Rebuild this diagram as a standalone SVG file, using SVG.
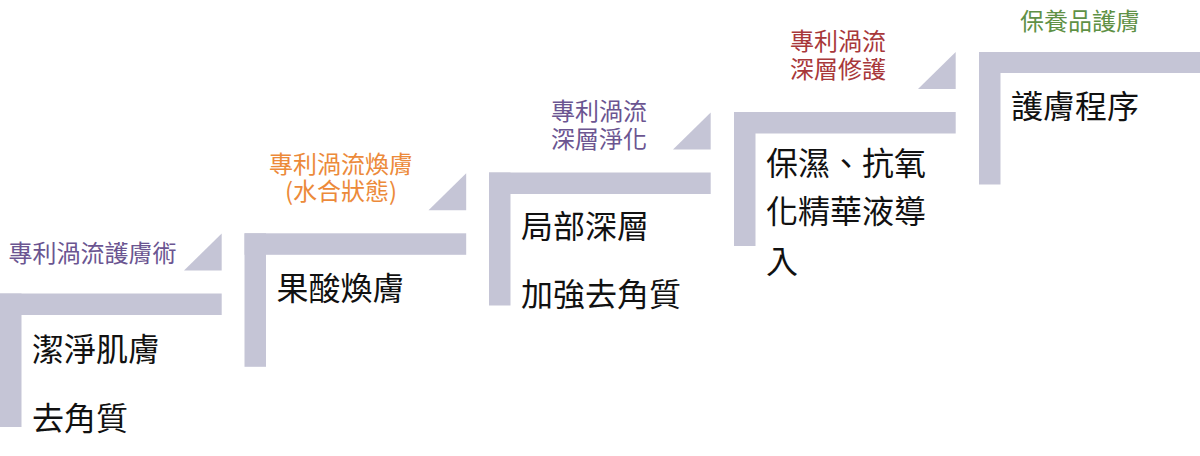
<svg xmlns="http://www.w3.org/2000/svg" width="1200" height="456" viewBox="0 0 1200 456">
<style>
.bar{fill:#c5c5d6}
.main{font-family:"Noto Sans CJK TC","Noto Sans CJK SC",sans-serif;font-size:32px;fill:#111}
.lab{font-family:"Noto Sans CJK TC","Noto Sans CJK SC",sans-serif;font-size:24px;text-anchor:middle}
.purple{fill:#6b5591}
.orange{fill:#ec8a3a}
.red{fill:#a8383a}
.green{fill:#5f9146}
</style>
<rect width="1200" height="456" fill="#fff"/>
<g id="step1">
<rect class="bar" x="0" y="293.5" width="221.7" height="21.5"/>
<rect class="bar" x="0" y="293.5" width="21.5" height="133.5"/>
<polygon class="bar" points="184,270.5 221.7,233.5 221.7,270.5"/>
<text class="lab purple" x="92.5" y="261.5">專利渦流護膚術</text>
<text class="main" x="32" y="361">潔淨肌膚</text>
<text class="main" x="32" y="429.5">去角質</text>
</g>
<g id="step2">
<rect class="bar" x="244.5" y="233.3" width="221.7" height="21.5"/>
<rect class="bar" x="244.5" y="233.3" width="21.5" height="133.5"/>
<polygon class="bar" points="428.5,210.3 466.2,173.3 466.2,210.3"/>
<text class="lab orange" x="341" y="173.3">專利渦流煥膚</text>
<text class="lab orange" x="341" y="200">(水合狀態)</text>
<text class="main" x="276.5" y="299.5">果酸煥膚</text>
</g>
<g id="step3">
<rect class="bar" x="489" y="172.5" width="221.7" height="21.5"/>
<rect class="bar" x="489" y="172.5" width="21.5" height="133"/>
<polygon class="bar" points="673,149.5 710.7,112.5 710.7,149.5"/>
<text class="lab purple" x="599" y="120">專利渦流</text>
<text class="lab purple" x="599" y="148">深層淨化</text>
<text class="main" x="521" y="238">局部深層</text>
<text class="main" x="521" y="306">加強去角質</text>
</g>
<g id="step4">
<rect class="bar" x="734" y="112" width="221.7" height="21.5"/>
<rect class="bar" x="734" y="112" width="21.5" height="134"/>
<polygon class="bar" points="918,89 955.7,52 955.7,89"/>
<text class="lab red" x="838" y="50">專利渦流</text>
<text class="lab red" x="838" y="78">深層修護</text>
<text class="main" x="766" y="174.5">保濕、抗氧</text>
<text class="main" x="766" y="223">化精華液導</text>
<text class="main" x="766" y="273">入</text>
</g>
<g id="step5">
<rect class="bar" x="979" y="52" width="221" height="21"/>
<rect class="bar" x="979" y="52" width="21.5" height="132.5"/>
<text class="lab green" x="1080" y="30">保養品護膚</text>
<text class="main" x="1011" y="118">護膚程序</text>
</g>
<g id="connectors"/>
</svg>
